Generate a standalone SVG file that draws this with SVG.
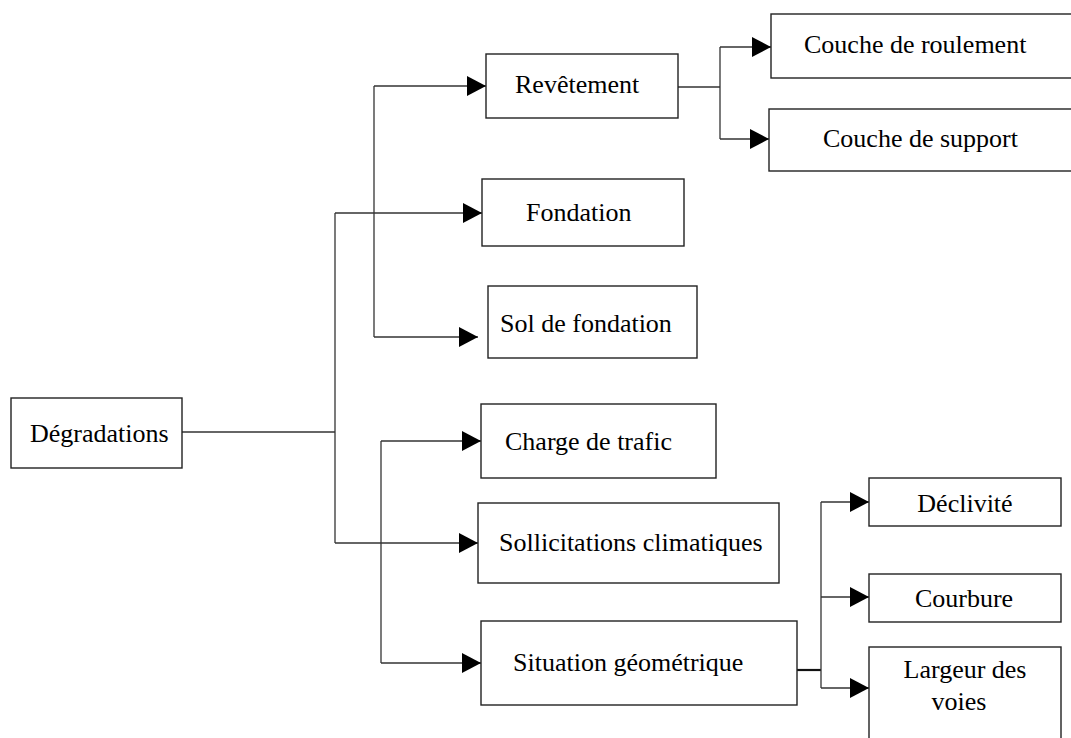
<svg xmlns="http://www.w3.org/2000/svg" width="1071" height="738" viewBox="0 0 1071 738">
<style>
.box{fill:#fff;stroke:#222;stroke-width:1.4}
.t{font-family:"Liberation Serif","Times New Roman",serif;font-size:26px;fill:#000}
.ln{fill:none;stroke:#333;stroke-width:1.3}
</style>
<defs>
<marker id="ah" viewBox="0 0 19 20" refX="19" refY="10" markerWidth="19" markerHeight="20" markerUnits="userSpaceOnUse" orient="auto">
<path d="M0,0 L19,10 L0,20 Z" fill="#000"/>
</marker>
</defs>
<rect width="1071" height="738" fill="#fff"/>
<g id="connectors">
<path class="ln" d="M182,432 H335"/>
<path class="ln" d="M335,213 V543"/>
<path class="ln" d="M335,213 H482" marker-end="url(#ah)"/>
<path class="ln" d="M335,543 H478" marker-end="url(#ah)"/>
<path class="ln" d="M374,86 V337"/>
<path class="ln" d="M374,86 H486" marker-end="url(#ah)"/>
<path class="ln" d="M374,337 H478" marker-end="url(#ah)"/>
<path class="ln" d="M381,441 V663"/>
<path class="ln" d="M381,441 H481" marker-end="url(#ah)"/>
<path class="ln" d="M381,663 H481" marker-end="url(#ah)"/>
<path class="ln" d="M678,87 H720"/>
<path class="ln" d="M720,47 V139"/>
<path class="ln" d="M720,47 H771" marker-end="url(#ah)"/>
<path class="ln" d="M720,139 H769" marker-end="url(#ah)"/>
<path class="ln" d="M797,670 H821" style="stroke-width:2.2;stroke:#111"/>
<path class="ln" d="M821,502 V688"/>
<path class="ln" d="M821,502 H869" marker-end="url(#ah)"/>
<path class="ln" d="M821,597 H869" marker-end="url(#ah)"/>
<path class="ln" d="M821,688 H869" marker-end="url(#ah)"/>
</g>
<g id="degradations"><rect class="box" x="11" y="398" width="171" height="70"/><text class="t" x="30" y="442">Dégradations</text></g>
<g id="revetement"><rect class="box" x="486" y="54" width="192" height="64"/><text class="t" x="515" y="93">Revêtement</text></g>
<g id="fondation"><rect class="box" x="482" y="179" width="202" height="67"/><text class="t" x="526" y="221">Fondation</text></g>
<g id="sol"><rect class="box" x="488" y="286" width="209" height="72"/><text class="t" x="500" y="332">Sol de fondation</text></g>
<g id="charge"><rect class="box" x="481" y="404" width="235" height="74"/><text class="t" x="505" y="450">Charge de trafic</text></g>
<g id="sollicitations"><rect class="box" x="478" y="503" width="301" height="80"/><text class="t" x="499" y="551">Sollicitations climatiques</text></g>
<g id="situation"><rect class="box" x="481" y="621" width="316" height="84"/><text class="t" x="513" y="671">Situation géométrique</text></g>
<g id="roulement"><rect class="box" x="771" y="14" width="310" height="64"/><text class="t" x="804" y="53">Couche de roulement</text></g>
<g id="support"><rect class="box" x="769" y="109" width="312" height="62"/><text class="t" x="823" y="147">Couche de support</text></g>
<g id="declivite"><rect class="box" x="869" y="478" width="192" height="48"/><text class="t" x="965" y="512" text-anchor="middle">Déclivité</text></g>
<g id="courbure"><rect class="box" x="869" y="574" width="192" height="48"/><text class="t" x="964" y="607" text-anchor="middle">Courbure</text></g>
<g id="largeur"><rect class="box" x="869" y="647" width="192" height="100"/><text class="t" x="965" y="678" text-anchor="middle">Largeur des</text><text class="t" x="959" y="710" text-anchor="middle">voies</text></g>
</svg>
